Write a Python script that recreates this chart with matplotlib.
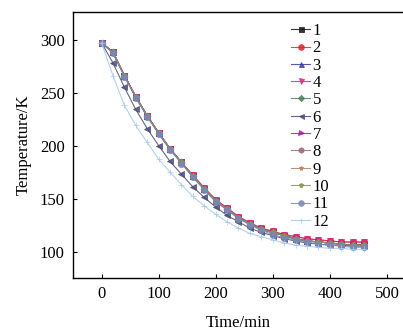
import matplotlib
matplotlib.use("Agg")
import matplotlib.pyplot as plt

plt.rcParams['font.family'] = ['Liberation Serif', 'DejaVu Serif']
plt.rcParams['mathtext.fontset'] = 'stix'

time = [0, 20, 40, 60, 80, 100, 120, 140, 160, 180, 200, 220, 240, 260,
        280, 300, 320, 340, 360, 380, 400, 420, 440, 460]

upper = [297, 288, 266, 246, 228, 212, 197, 184, 171, 159, 148, 140, 132, 126,
         121, 118, 115, 112, 110, 109, 108, 107, 106, 106]
upper_hi = [297, 288, 266, 246, 228, 212, 197, 184, 172, 160, 149, 141, 133, 127,
            122, 119, 116, 114, 112, 111, 110, 109, 109, 109]
upper_lo = [297, 287, 265, 245, 227, 211, 196, 183, 170, 158, 147, 139, 131, 125,
            120, 116, 113, 111, 109, 107, 106, 105, 104, 104]
middle = [297, 278, 255, 234, 216, 200, 185, 173, 161, 151, 142, 134, 128, 122,
          118, 115, 112, 110, 108, 107, 106, 106, 105, 105]
lower = [297, 266, 238, 219, 203, 187, 175, 163, 152, 143, 135, 128, 122, 117,
         114, 111, 108, 106, 105, 104, 103, 103, 102, 102]

labels = ['1', '2', '3', '4', '5', '6', '7', '8', '9', '10', '11', '12']
series = [upper, upper_hi, upper, upper_hi, upper, middle, upper, upper,
          upper, upper, upper_lo, lower]
colors = ['#151515', '#e8202a', '#3a3aa0', '#e8207a', '#4a8060', '#4a4a78',
          '#a020a0', '#9a6a78', '#b8805a', '#8a9050', '#7888b8', '#a8c8e8']
markers = ['s', 'o', '^', 'v', 'D', '<', '>', 'h', '*', 'p', 'o', '+']

fig = plt.figure(figsize=(4.03, 3.36), dpi=100)
ax = fig.add_axes([73/403, 1 - 278/336, (404 - 73)/403, 266/336])

for lab, vals, c, m in zip(labels, series, colors, markers):
    ms = 4.5 if m in ('o', 'h') else 4
    if m == 'D':
        ms = 3.5
    ax.plot(time, vals, color=c, marker=m, markersize=ms, linewidth=0.8,
            markeredgewidth=0.6, label=lab, alpha=0.85)

ax.set_xlim(-50, 530)
ax.set_ylim(75, 326)
ax.set_xticks([0, 100, 200, 300, 400, 500])
ax.set_yticks([100, 150, 200, 250, 300])
ax.tick_params(direction='in', length=3, width=0.8, labelsize=12, pad=6)
ax.spines['right'].set_visible(False)
for s in ['left', 'top', 'bottom']:
    ax.spines[s].set_linewidth(1.0)

ax.set_xlabel('Time/min', fontsize=12, labelpad=9)
ax.set_ylabel('Temperature/K', fontsize=12, labelpad=6)

leg = ax.legend(loc='upper left', bbox_to_anchor=(291/403, 1 - 23/336),
                bbox_transform=fig.transFigure, frameon=False, fontsize=12,
                handlelength=1.15, handletextpad=0.15, labelspacing=0.08,
                borderpad=0, borderaxespad=0, markerscale=0.9)

fig.savefig('out.png', dpi=100)
